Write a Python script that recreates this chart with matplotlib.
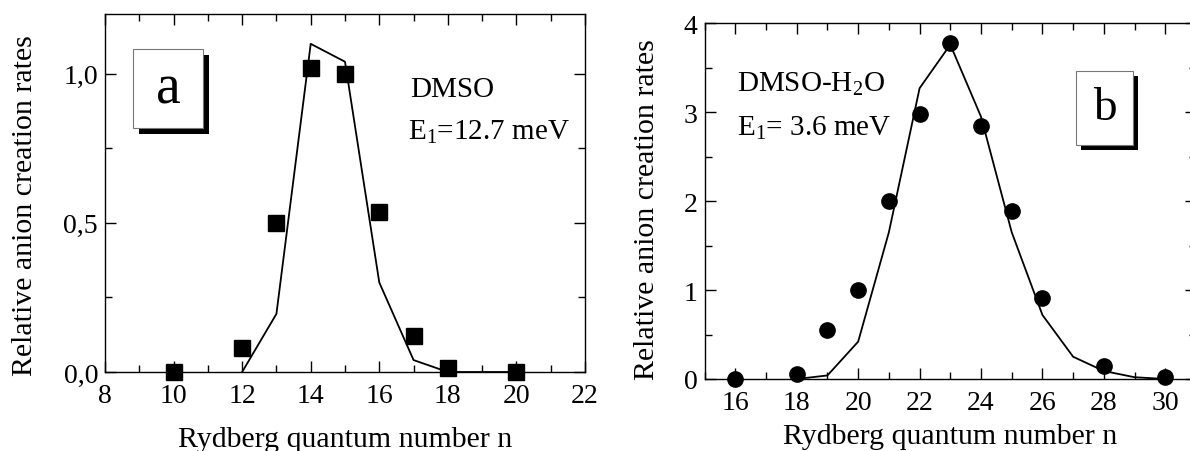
import matplotlib
matplotlib.use('Agg')
import matplotlib.pyplot as plt
from matplotlib.patches import Rectangle
from matplotlib.ticker import MultipleLocator

plt.rcParams['font.family'] = ['Liberation Serif', 'DejaVu Serif']
plt.rcParams['mathtext.fontset'] = 'custom'
plt.rcParams['mathtext.rm'] = 'Liberation Serif'
plt.rcParams['mathtext.it'] = 'Liberation Serif:italic'

# ======
# data, panel a (DMSO)
# ======
n_a = [10, 12, 13, 14, 15, 16, 17, 18, 20]
rate_a = [0.0, 0.08, 0.50, 1.02, 1.0, 0.535, 0.12, 0.012, 0.0]
n_fit_a = [12, 13, 14, 15, 16, 17, 18, 19, 20]
fit_a = [0.0, 0.195, 1.10, 1.04, 0.30, 0.04, 0.0, 0.0, 0.0]

# ======
# data, panel b (DMSO-H2O)
# ======
n_b = [16, 18, 19, 20, 21, 22, 23, 24, 25, 26, 28, 30]
rate_b = [0.0, 0.06, 0.55, 1.0, 2.0, 2.98, 3.78, 2.85, 1.89, 0.91, 0.15, 0.02]
n_fit_b = [18, 19, 20, 21, 22, 23, 24, 25, 26, 27, 28, 29, 30]
fit_b = [0.0, 0.04, 0.42, 1.65, 3.27, 3.76, 2.95, 1.65, 0.72, 0.25, 0.09, 0.02, 0.0]

FS_TICK = 20
FS_LAB = 21.5
FS_TXT = 21


def style_axes(ax):
    for s in ax.spines.values():
        s.set_linewidth(1.0)
    ax.tick_params(which='both', direction='in', top=True, right=True,
                   labelsize=FS_TICK, width=1.0)
    ax.tick_params(which='major', length=8)
    ax.tick_params(axis='x', which='major', pad=8)
    ax.tick_params(axis='y', which='major', pad=5)
    ax.tick_params(which='minor', length=5)


def label_box(fig, x0, y0, w, h, txt, fsize, sh=6):
    # shadow then white box (figure pixels, origin top-left)
    W, H = 1190.0, 452.0
    fig.patches.append(Rectangle(((x0 + sh) / W, 1 - (y0 + h + sh) / H), w / W, h / H,
                                 transform=fig.transFigure, facecolor='black',
                                 edgecolor='none', zorder=5))
    fig.patches.append(Rectangle((x0 / W, 1 - (y0 + h) / H), w / W, h / H,
                                 transform=fig.transFigure, facecolor='white',
                                 edgecolor='#777777', linewidth=0.8, zorder=6))
    fig.text((x0 + w / 2) / W, 1 - (y0 + h / 2) / H, txt, fontsize=fsize,
             ha='center', va='center', zorder=7)


fig = plt.figure(figsize=(11.9, 4.52), dpi=100)

# ---- panel a
ax1 = fig.add_axes([105 / 1190, 1 - 373 / 452, 480 / 1190, 358 / 452])
ax1.plot(n_fit_a, fit_a, color='black', lw=1.3, zorder=2)
ax1.plot(n_a, rate_a, 's', color='black', ms=12, zorder=3, clip_on=False)
ax1.set_xlim(8, 22)
ax1.set_ylim(0, 1.2)
ax1.xaxis.set_major_locator(MultipleLocator(2))
ax1.xaxis.set_minor_locator(MultipleLocator(1))
ax1.yaxis.set_minor_locator(MultipleLocator(0.25))
ax1.set_yticks([0, 0.5, 1.0])
ax1.set_yticklabels(['0,0', '0,5', '1,0'])
style_axes(ax1)
ax1.set_xlabel('Rydberg quantum number n', fontsize=FS_LAB)
ax1.set_ylabel('Relative anion creation rates', fontsize=FS_LAB)
ax1.xaxis.set_label_coords(0.5, -0.15)
ax1.yaxis.set_label_coords(-0.14, 0.469)
ax1.text(0.635, 0.79, 'DMSO', transform=ax1.transAxes, fontsize=FS_TXT, va='center')
ax1.text(0.632, 0.672, r'E$_\mathregular{1}$=12.7 meV', transform=ax1.transAxes,
         fontsize=FS_TXT, va='center')
label_box(fig, 133, 50, 70, 79, 'a', 40)

# ---- panel b
ax2 = fig.add_axes([704.6 / 1190, 1 - 380 / 452, 491.4 / 1190, 355.7 / 452])
ax2.plot(n_fit_b, fit_b, color='black', lw=1.3, zorder=2)
ax2.plot(n_b, rate_b, 'o', color='black', ms=11, zorder=3, clip_on=False)
ax2.set_xlim(15, 31)
ax2.set_ylim(0, 4)
ax2.set_xticks([16, 18, 20, 22, 24, 26, 28, 30])
ax2.xaxis.set_minor_locator(MultipleLocator(1))
ax2.yaxis.set_major_locator(MultipleLocator(1))
ax2.yaxis.set_minor_locator(MultipleLocator(0.5))
style_axes(ax2)
ax2.set_xlabel('Rydberg quantum number n', fontsize=FS_LAB)
ax2.set_ylabel('Relative anion creation rates', fontsize=FS_LAB)
ax2.xaxis.set_label_coords(0.5, -0.125)
ax2.yaxis.set_label_coords(-0.09, 0.478)
ax2.text(0.066, 0.83, r'DMSO-H$_\mathregular{2}$O', transform=ax2.transAxes,
         fontsize=FS_TXT, va='center')
ax2.text(0.066, 0.708, r'E$_\mathregular{1}$= 3.6 meV', transform=ax2.transAxes,
         fontsize=FS_TXT, va='center')
label_box(fig, 1076, 72, 57, 74, 'b', 34, sh=5)

fig.savefig('out.png', dpi=100)
